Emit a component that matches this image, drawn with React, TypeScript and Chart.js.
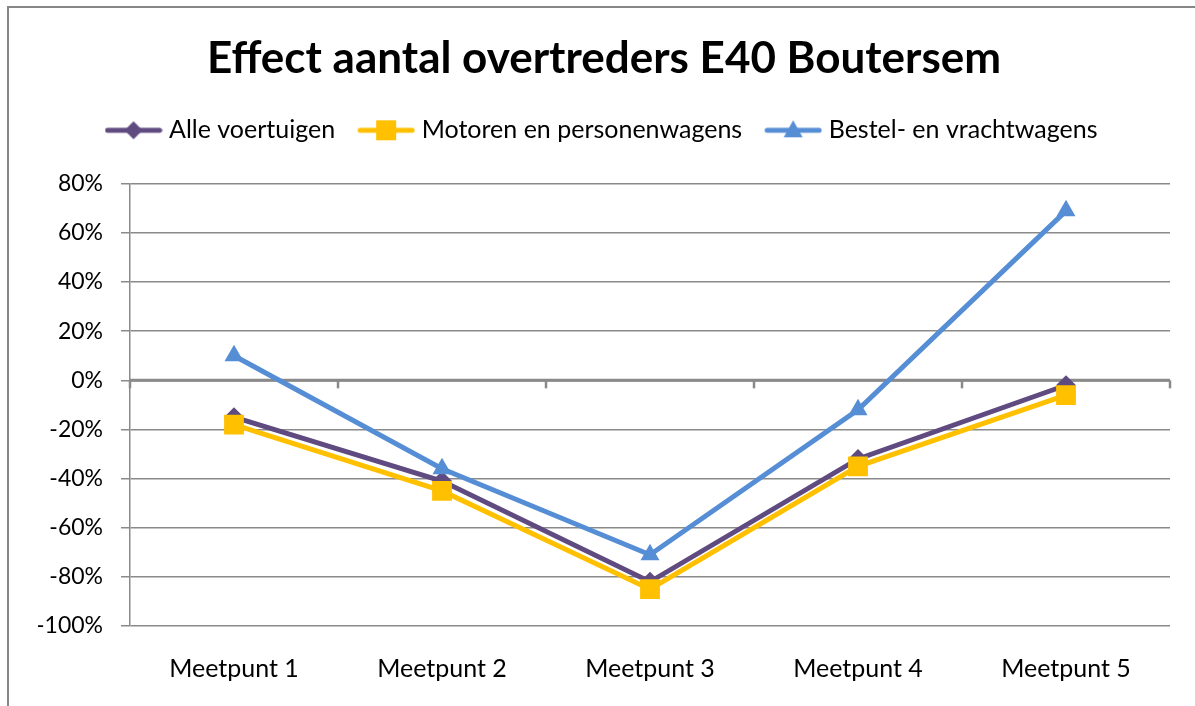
import React, { useEffect, useRef } from "react";
import { Chart, registerables } from "chart.js";

Chart.register(...registerables);

const categories = ["Meetpunt 1", "Meetpunt 2", "Meetpunt 3", "Meetpunt 4", "Meetpunt 5"];
const alleVoertuigen = [-15, -41, -82, -32, -2];
const motorenPersonenwagens = [-18, -45, -85, -35, -6];
const bestelVrachtwagens = [10, -36, -71, -12, 69];
const seriesLabels = ["Alle voertuigen", "Motoren en personenwagens", "Bestel- en vrachtwagens"];
const yTicks = [-100, -80, -60, -40, -20, 0, 20, 40, 60, 80];
const titleText = "Effect aantal overtreders E40 Boutersem";

const PURPLE = "#5F4B7F";
const YELLOW = "#FFC000";
const BLUE = "#568ED6";
const GRID = "#8A8A8A";
const FONT = "Lato";

function makeLegendImage(color: string, marker: string): HTMLCanvasElement {
  const c = document.createElement("canvas");
  c.width = 58;
  c.height = 24;
  const ctx = c.getContext("2d")!;
  const cy = 12;
  const cx = 29;
  ctx.strokeStyle = color;
  ctx.lineWidth = 5;
  ctx.lineCap = "round";
  ctx.beginPath();
  ctx.moveTo(3, cy);
  ctx.lineTo(55, cy);
  ctx.stroke();
  ctx.fillStyle = color;
  ctx.beginPath();
  if (marker === "diamond") {
    ctx.moveTo(cx, cy - 9);
    ctx.lineTo(cx + 9, cy);
    ctx.lineTo(cx, cy + 9);
    ctx.lineTo(cx - 9, cy);
  } else if (marker === "square") {
    ctx.rect(cx - 10, cy - 10, 20, 20);
  } else {
    ctx.moveTo(cx, cy - 10);
    ctx.lineTo(cx + 9.5, cy + 7);
    ctx.lineTo(cx - 9.5, cy + 7);
  }
  ctx.closePath();
  ctx.fill();
  return c;
}

const zeroLinePlugin = {
  id: "zeroLine",
  beforeLayout(chart: any) {
    const legend = chart.legend;
    if (legend && !legend.__patched) {
      const orig = legend.fit.bind(legend);
      legend.fit = function () {
        orig();
        this.height += 31;
      };
      legend.__patched = true;
    }
  },
  beforeDatasetsDraw(chart: any) {
    const { ctx, chartArea } = chart;
    const y = chart.scales.y.getPixelForValue(0);
    const n = categories.length;
    ctx.save();
    ctx.strokeStyle = GRID;
    ctx.lineWidth = 3;
    ctx.beginPath();
    ctx.moveTo(chartArea.left, y);
    ctx.lineTo(chartArea.right, y);
    ctx.stroke();
    ctx.lineWidth = 2.5;
    for (let i = 0; i <= n; i++) {
      const x = chartArea.left + (i * (chartArea.right - chartArea.left)) / n;
      ctx.beginPath();
      ctx.moveTo(x, y);
      ctx.lineTo(x, y + 8);
      ctx.stroke();
    }
    ctx.restore();
  },
};

export default function App() {
  const ref = useRef<HTMLCanvasElement | null>(null);

  useEffect(() => {
    if (!ref.current) return;
    const legendImages = [
      makeLegendImage(PURPLE, "diamond"),
      makeLegendImage(YELLOW, "square"),
      makeLegendImage(BLUE, "triangle"),
    ];
    const chart = new Chart(ref.current, {
      type: "line",
      data: {
        labels: categories,
        datasets: [
          {
            label: seriesLabels[0],
            data: alleVoertuigen,
            borderColor: PURPLE,
            backgroundColor: PURPLE,
            borderWidth: 5,
            pointStyle: "rectRot",
            pointRadius: 10,
            pointBorderWidth: 0,
            order: 3,
          },
          {
            label: seriesLabels[1],
            data: motorenPersonenwagens,
            borderColor: YELLOW,
            backgroundColor: YELLOW,
            borderWidth: 5,
            pointStyle: "rect",
            pointRadius: 14,
            pointBorderWidth: 0,
            order: 2,
          },
          {
            label: seriesLabels[2],
            data: bestelVrachtwagens,
            borderColor: BLUE,
            backgroundColor: BLUE,
            borderWidth: 5,
            pointStyle: "triangle",
            pointRadius: 11,
            pointBorderWidth: 0,
            order: 1,
          },
        ],
      },
      options: {
        animation: false,
        responsive: false,
        layout: { padding: { left: 29, right: 25, top: 0, bottom: 0 } },
        plugins: {
          tooltip: { enabled: false },
          title: {
            display: true,
            text: titleText,
            color: "#000",
            font: { family: FONT, size: 44, weight: "bold" },
            padding: { top: 24, bottom: 5 },
          },
          legend: {
            display: true,
            position: "top",
            labels: {
              usePointStyle: true,
              pointStyleWidth: 46,
              color: "#000",
              padding: 28,
              font: { family: FONT, size: 25 },
              generateLabels: () =>
                seriesLabels.map((t, i) => ({
                  text: t,
                  pointStyle: legendImages[i] as any,
                  fillStyle: "transparent",
                  strokeStyle: "transparent",
                  lineWidth: 0,
                  hidden: false,
                  datasetIndex: i,
                  fontColor: "#000",
                })),
            },
          },
        },
        scales: {
          x: {
            type: "category",
            offset: true,
            grid: { display: false },
            border: { display: false },
            ticks: {
              color: "#000",
              font: { family: FONT, size: 25 },
              padding: 20,
              maxRotation: 0,
            },
            afterFit(scale: any) {
              scale.height = 80;
            },
          },
          y: {
            type: "linear",
            min: -100,
            max: 80,
            afterBuildTicks(scale: any) {
              scale.ticks = yTicks.map((v) => ({ value: v }));
            },
            grid: { color: GRID, lineWidth: 1.5, tickLength: 9, drawTicks: true },
            border: { display: true, color: GRID, width: 1.5 },
            ticks: {
              color: "#000",
              font: { family: FONT, size: 23 },
              padding: 18,
              callback: (v: any) => `${v}%`,
            },
            afterFit(scale: any) {
              scale.width = 92;
            },
          },
        },
      },
      plugins: [zeroLinePlugin],
    });
    return () => chart.destroy();
  }, []);

  return (
    <div
      style={{
        position: "absolute",
        left: 7,
        top: 6,
        width: 1188,
        height: 700,
        borderLeft: "2px solid #878787",
        borderTop: "2px solid #878787",
        background: "#fff",
        overflow: "hidden",
      }}
    >
      <canvas ref={ref} width={1186} height={698} style={{ display: "block" }} />
    </div>
  );
}
